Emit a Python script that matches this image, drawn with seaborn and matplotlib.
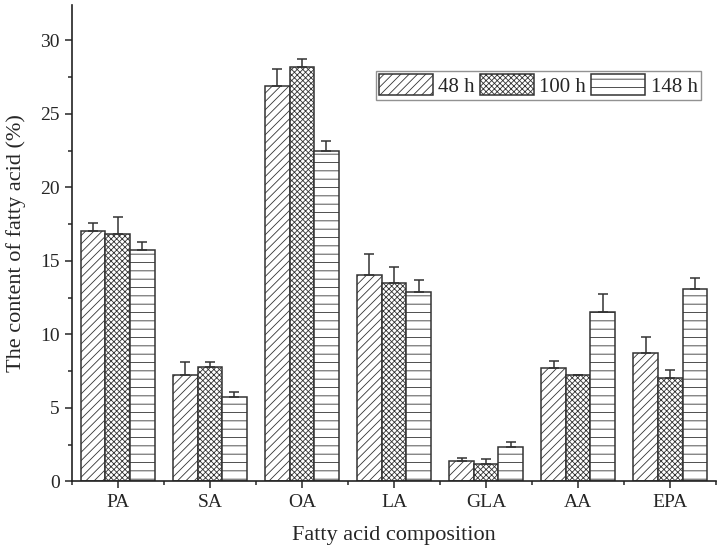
import numpy as np
import pandas as pd
import matplotlib
matplotlib.use("Agg")
import matplotlib.pyplot as plt
import seaborn as sns

# datos
acids = ['PA', 'SA', 'OA', 'LA', 'GLA', 'AA', 'EPA']
times = ['48 h', '100 h', '148 h']
v48 = [17.0, 7.2, 26.9, 14.0, 1.35, 7.7, 8.7]
v100 = [16.8, 7.8, 28.2, 13.5, 1.2, 7.2, 7.0]
v148 = [15.7, 5.7, 22.5, 12.9, 2.3, 11.5, 13.1]
e48 = [0.55, 0.9, 1.15, 1.45, 0.2, 0.45, 1.1]
e100 = [1.15, 0.3, 0.5, 1.1, 0.3, 0.05, 0.55]
e148 = [0.55, 0.4, 0.65, 0.8, 0.4, 1.25, 0.7]

vals = [v48, v100, v148]
errs = [e48, e100, e148]

df = pd.DataFrame({
    'acid': np.tile(acids, 3),
    'time': np.repeat(times, len(acids)),
    'value': np.concatenate(vals),
})

sns.set_style("ticks")
plt.rcParams['font.family'] = ['Liberation Serif', 'DejaVu Serif']
plt.rcParams['hatch.linewidth'] = 0.6
plt.rcParams['hatch.color'] = '#555555'

fig = plt.figure(figsize=(7.17, 5.57), dpi=100)
ax = fig.add_axes([0.100, 0.136, 0.899, 0.855])

sns.barplot(data=df, x='acid', y='value', hue='time', order=acids,
            hue_order=times, width=0.8, gap=0, errorbar=None,
            palette=['white'] * 3, edgecolor='#333333', linewidth=1.1,
            saturation=1, ax=ax)

hatches = ['////', 'xxxxxx', '--']
for cont, h, err in zip(ax.containers, hatches, errs):
    xs = []
    ys = []
    for bar in cont.patches:
        bar.set_hatch(h)
        xs.append(bar.get_x() + bar.get_width() / 2)
        ys.append(bar.get_height())
    ax.errorbar(xs, ys, yerr=[np.zeros(len(err)), err], fmt='none',
                ecolor='#333333', elinewidth=1.1, capsize=3.5, capthick=1.1)

ax.set_xlim(-0.5, 6.5)
ax.set_ylim(0, 32.4)
ax.set_yticks([0, 5, 10, 15, 20, 25, 30])
ax.set_yticks(np.arange(2.5, 32.5, 5), minor=True)
ax.set_xticks(np.arange(-0.5, 7, 1), minor=True)
ax.tick_params(axis='both', which='major', labelsize=14, length=5,
               width=1.1, direction='out')
ax.tick_params(axis='x', which='major', pad=4)
ax.tick_params(axis='both', which='minor', length=3, width=1.1)
for s in ['left', 'bottom']:
    ax.spines[s].set_linewidth(1.2)
    ax.spines[s].set_color('#222222')
sns.despine(ax=ax)

ax.set_xlabel('Fatty acid composition', fontsize=16, labelpad=11)
ax.set_ylabel('The content of fatty acid (%)', fontsize=16, labelpad=10)

leg = ax.legend(loc='upper right', bbox_to_anchor=(0.976, 0.862), ncol=3,
                fontsize=15, frameon=True, fancybox=False, edgecolor='#777777',
                handlelength=2.6, handleheight=1.2, handletextpad=0.25,
                columnspacing=0.25, borderpad=0.15, borderaxespad=0)
leg.get_frame().set_linewidth(1.0)
for hnd, h in zip(leg.legend_handles, hatches):
    hnd.set_hatch(h)
    hnd.set_facecolor('white')
    hnd.set_edgecolor('#333333')

fig.savefig('out.png', dpi=100)
